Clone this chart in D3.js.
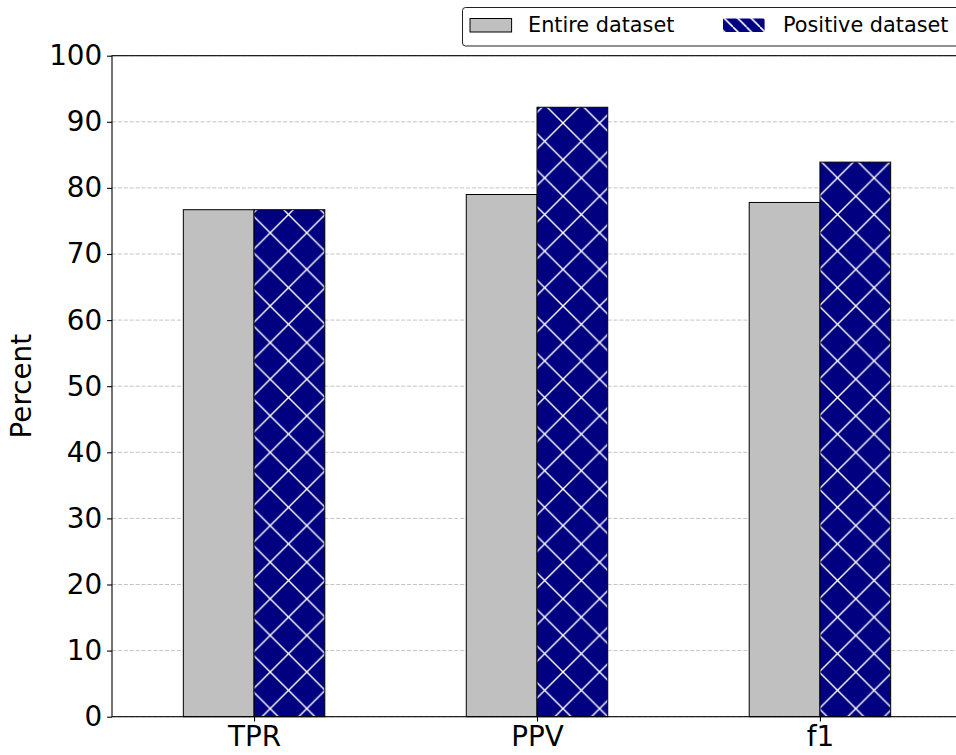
<!DOCTYPE html>
<html>
<head>
<meta charset="utf-8">
<script src="https://cdn.jsdelivr.net/npm/d3@7"></script>
<style>
  html, body { margin: 0; padding: 0; background: #fff; }
  svg { display: block; font-family: "DejaVu Sans", sans-serif; }
</style>
</head>
<body>
<div id="chart"></div>
<script>
// Metric categories along the x axis
const categories = ["TPR", "PPV", "f1"];
// Series values (percent)
const entireValues = [76.7, 79.0, 77.8];
const positiveValues = [76.7, 92.2, 83.9];
// Series names for the legend
const seriesNames = ["Entire dataset", "Positive dataset"];
// Y axis tick values
const yTicks = [0, 10, 20, 30, 40, 50, 60, 70, 80, 90, 100];

const W = 956, H = 755;
const plotLeft = 112, plotRight = 962, plotTop = 55.7, plotBottom = 716.7;

const svg = d3.select("#chart").append("svg")
  .attr("width", W).attr("height", H);

// Cross-hatch pattern for the positive series (global, user-space aligned)
const defs = svg.append("defs");
const s = 36.6;
const hatch = defs.append("pattern")
  .attr("id", "crosshatch")
  .attr("patternUnits", "userSpaceOnUse")
  .attr("x", 14).attr("y", 13.2)
  .attr("width", s).attr("height", s);
hatch.append("rect").attr("width", s).attr("height", s).attr("fill", "#000080");
const hp = [
  [-s, 0, 0, s], [0, 0, s, s], [0, -s, s, 0],
  [0, 0, -s, s], [s, 0, 0, s], [2 * s, 0, 0, 2 * s]
];
hatch.selectAll("line").data(hp).join("line")
  .attr("x1", d => d[0]).attr("y1", d => d[1])
  .attr("x2", d => d[2]).attr("y2", d => d[3])
  .attr("stroke", "#ffffff").attr("stroke-width", 1.4);

// Single-direction hatch used by the small legend swatch
const ls = 13.5;
const lhatch = defs.append("pattern")
  .attr("id", "legendhatch")
  .attr("patternUnits", "userSpaceOnUse")
  .attr("x", 4).attr("y", 0)
  .attr("width", ls).attr("height", ls);
lhatch.append("rect").attr("width", ls).attr("height", ls).attr("fill", "#000080");
lhatch.selectAll("line").data([[-ls, 0, 0, ls], [0, 0, ls, ls], [0, -ls, ls, 0]]).join("line")
  .attr("x1", d => d[0]).attr("y1", d => d[1])
  .attr("x2", d => d[2]).attr("y2", d => d[3])
  .attr("stroke", "#ffffff").attr("stroke-width", 1.6);

// Scales
const x = d3.scaleLinear().domain([-0.5021, 2.5021]).range([plotLeft, plotRight]);
const y = d3.scaleLinear().domain([0, 100]).range([plotBottom, plotTop]);
const barW = x(0.25) - x(0);

// Horizontal dashed grid
svg.append("g").selectAll("line").data(yTicks).join("line")
  .attr("x1", plotLeft).attr("x2", plotRight)
  .attr("y1", d => y(d)).attr("y2", d => y(d))
  .attr("stroke", "#c4c4c4").attr("stroke-width", 1)
  .attr("stroke-dasharray", "4.1,1.8");

// Bars
const bars = svg.append("g");
bars.selectAll("rect.entire").data(entireValues).join("rect")
  .attr("class", "entire")
  .attr("x", (d, i) => x(i) - barW)
  .attr("y", d => y(d))
  .attr("width", barW)
  .attr("height", d => y(0) - y(d))
  .attr("fill", "#c0c0c0").attr("stroke", "#000").attr("stroke-width", 1);
bars.selectAll("rect.positive").data(positiveValues).join("rect")
  .attr("class", "positive")
  .attr("x", (d, i) => x(i))
  .attr("y", d => y(d))
  .attr("width", barW)
  .attr("height", d => y(0) - y(d))
  .attr("fill", "url(#crosshatch)").attr("stroke", "#000").attr("stroke-width", 1);

// Axes
const tickLen = 4.9, tickPad = 4.9;
const yAxis = svg.append("g")
  .attr("transform", `translate(${plotLeft},0)`)
  .call(d3.axisLeft(y).tickValues(yTicks).tickSize(tickLen).tickPadding(tickPad).tickSizeOuter(0));
const xAxis = svg.append("g")
  .attr("transform", `translate(0,${plotBottom})`)
  .call(d3.axisBottom(x).tickValues([0, 1, 2]).tickFormat(i => categories[i])
    .tickSize(tickLen).tickPadding(tickPad).tickSizeOuter(0));
[yAxis, xAxis].forEach(g => {
  g.select(".domain").remove();
  g.selectAll(".tick line").attr("stroke", "#000").attr("stroke-width", 1.1);
  g.selectAll(".tick text")
    .attr("fill", "#000")
    .style("font-family", "'DejaVu Sans', sans-serif")
    .style("font-size", "27.8px");
});

// Plot frame (spines)
svg.append("rect")
  .attr("x", plotLeft).attr("y", plotTop)
  .attr("width", plotRight - plotLeft).attr("height", plotBottom - plotTop)
  .attr("fill", "none").attr("stroke", "#000").attr("stroke-width", 1.1);

// Y axis title
svg.append("text")
  .attr("transform", `translate(31,${(plotTop + plotBottom) / 2}) rotate(-90)`)
  .attr("text-anchor", "middle")
  .style("font-size", "27.8px")
  .attr("fill", "#000")
  .text("Percent");

// Legend
const lg = svg.append("g");
lg.append("rect")
  .attr("x", 462.5).attr("y", 7.5).attr("width", 520).attr("height", 38.5)
  .attr("rx", 3).attr("fill", "#fff").attr("stroke", "#222").attr("stroke-width", 1);
const legendItems = [
  { name: seriesNames[0], fill: "#c0c0c0", stroke: "#000", px: 470, tx: 528 },
  { name: seriesNames[1], fill: "url(#legendhatch)", stroke: "none", px: 723, tx: 783 }
];
legendItems.forEach(it => {
  lg.append("rect")
    .attr("x", it.px).attr("y", 18.5).attr("width", 41.6).attr("height", 13.5)
    .attr("fill", it.fill).attr("stroke", it.stroke).attr("stroke-width", 1);
  lg.append("text")
    .attr("x", it.tx).attr("y", 32)
    .style("font-size", "20.8px")
    .attr("fill", "#000")
    .text(it.name);
});
</script>
</body>
</html>
